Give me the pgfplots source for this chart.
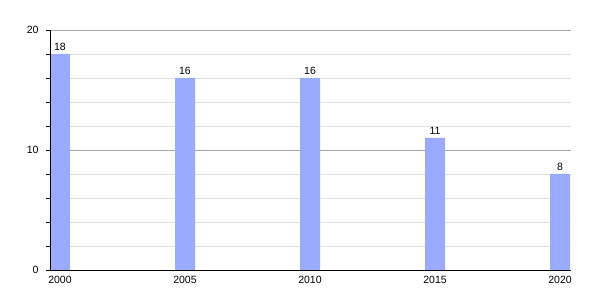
\documentclass[border=0pt]{standalone}
\usepackage{pgfplots}
\pgfplotsset{compat=1.18}
\usepackage{fontspec}
\setmainfont{Liberation Sans}
\definecolor{barblue}{HTML}{99AAFF}
\begin{document}
\begin{tikzpicture}[x=1pt,y=1pt]
\useasboundingbox (0,0) rectangle (600,300);
\begin{axis}[
  at={(50pt,30pt)}, anchor=south west,
  scale only axis, width=521pt, height=240pt,
  xmin=1999.6, xmax=2020.44,
  ymin=0, ymax=20,
  xtick={2000,2005,2010,2015,2020},
  xticklabel style={/pgf/number format/1000 sep={}},
  ytick={0,10,20},
  minor y tick num=4,
  ymajorgrids, yminorgrids,
  major grid style={draw=black!35, line width=0.8pt},
  minor grid style={draw=black!12, line width=0.8pt},
  axis x line*=bottom, axis y line*=left,
  axis line style={black, line width=0.9pt, -},
  x tick style={draw=none},
  y tick style={black, line width=0.8pt},
  tick align=outside,
  major tick length=4pt, minor tick length=4pt,
  /pgf/number format/assume math mode=true,
  tick label style={font=\fontsize{10.5}{12}\selectfont},
  yticklabel style={xshift=-4pt},
  xticklabel style={yshift=1pt},
  ybar, bar width=20pt,
  nodes near coords,
  every node near coord/.append style={font=\fontsize{10.5}{12}\selectfont, yshift=0pt},
  clip=false,
]
\addplot[fill=barblue, draw=none, bar shift=0pt] coordinates {
  (2000,18) (2005,16) (2010,16) (2015,11) (2020,8)
};
\draw[black, line width=0.9pt] (rel axis cs:0,0) -- (rel axis cs:0,1);
\draw[black, line width=0.9pt] (rel axis cs:0,0) -- (rel axis cs:1,0);
\end{axis}
\end{tikzpicture}
\end{document}
